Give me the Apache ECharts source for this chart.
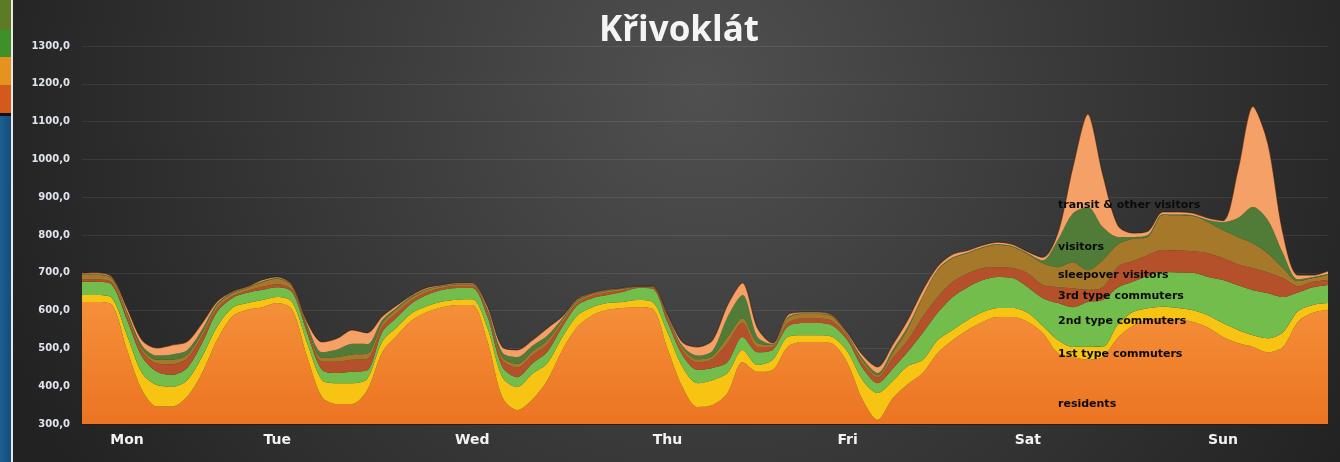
<!DOCTYPE html>
<html>
<head>
<meta charset="utf-8">
<script src="https://cdn.jsdelivr.net/npm/echarts@6/dist/echarts.min.js"></script>
<style>
html, body { margin: 0; padding: 0; }
body {
  width: 1340px; height: 462px; overflow: hidden; position: relative;
  background: radial-gradient(circle 740px at 700px 90px, #505050 0%, #222 100%);
}
#chart { position: absolute; left: 0; top: 0; width: 1340px; height: 462px; }
.strip { position: absolute; left: 0; width: 11px; z-index: 2; }
</style>
</head>
<body>
<div id="chart"></div>
<!-- piece of another window on the left edge -->
<div class="strip" style="top:0;height:30px;background:#5d7a24"></div>
<div class="strip" style="top:30px;height:27px;background:#3f8f2a"></div>
<div class="strip" style="top:57px;height:28px;background:#e5921f"></div>
<div class="strip" style="top:85px;height:28px;background:#d35a1a"></div>
<div class="strip" style="top:113px;height:3px;background:#111"></div>
<div class="strip" style="top:116px;height:346px;background:linear-gradient(90deg,#1e5f92,#164c78)"></div>
<div class="strip" style="top:0;left:11px;width:2px;height:462px;background:#e8e8e8"></div>
<script>
// axis
const dayNames = ['Mon', 'Tue', 'Wed', 'Thu', 'Fri', 'Sat', 'Sun']
const dayLabelIndex = [3, 13, 26, 39, 51, 63, 76]
const hourSteps = ['00', '02', '04', '06', '08', '10', '12', '14', '16', '18', '20', '22']
const yMin = 300
const yMax = 1300
const yStep = 100

const seriesNames = ['residents', '1st type commuters', '2nd type commuters', '3rd type commuters',
  'sleepover visitors', 'visitors', 'transit & other visitors']

// values every 2 hours, Mon 00:00 .. Sun 22:00
const residents = [
  623, 623, 615, 496, 390, 346, 346, 372, 435, 522, 584, 602,
  609, 620, 602, 477, 371, 353, 353, 390, 490, 535, 575, 596,
  609, 615, 615, 520, 371, 337, 365, 416, 496, 557, 588, 602,
  607, 609, 605, 500, 398, 345, 350, 382, 464, 438, 443, 504,
  517, 517, 512, 461, 364, 311, 368, 405, 435, 488, 522, 549,
  570, 583, 583, 570, 541, 488, 477, 470, 477, 528, 560, 575,
  580, 577, 570, 555, 530, 514, 504, 490, 504, 570, 594, 602
]
const commuters1 = [
  18, 18, 18, 39, 45, 57, 53, 44, 43, 35, 23, 18,
  19, 16, 21, 37, 45, 55, 55, 30, 28, 22, 19, 16,
  15, 14, 15, 35, 53, 61, 68, 45, 34, 30, 21, 18,
  16, 19, 18, 42, 53, 63, 66, 53, 32, 18, 26, 26,
  18, 18, 18, 30, 52, 71, 46, 48, 34, 34, 27, 26,
  26, 24, 24, 24, 18, 34, 27, 35, 27, 35, 36, 31,
  30, 30, 31, 33, 37, 35, 31, 37, 39, 28, 21, 18
]
const commuters2 = [
  35, 35, 35, 40, 43, 35, 31, 32, 36, 40, 26, 27,
  27, 26, 26, 27, 27, 27, 30, 22, 25, 26, 26, 30,
  31, 31, 30, 30, 27, 26, 27, 30, 27, 27, 24, 21,
  26, 32, 35, 28, 31, 35, 32, 29, 34, 34, 27, 27,
  32, 32, 30, 30, 32, 26, 32, 38, 72, 72, 87, 87,
  85, 82, 79, 68, 74, 98, 105, 118, 124, 98, 80, 86,
  92, 94, 99, 101, 114, 118, 119, 119, 93, 50, 47, 48
]
const commuters3 = [
  6, 6, 6, 8, 14, 22, 28, 25, 18, 8, 5, 5,
  8, 8, 6, 10, 22, 30, 32, 30, 14, 12, 8, 7,
  5, 5, 5, 8, 18, 25, 22, 20, 10, 6, 6, 6,
  5, 2, 3, 8, 12, 20, 24, 50, 38, 14, 8, 10,
  12, 12, 12, 8, 12, 15, 28, 30, 42, 42, 40, 37,
  32, 26, 27, 37, 35, 42, 50, 32, 34, 55, 55, 55,
  58, 58, 57, 63, 58, 55, 58, 55, 50, 16, 14, 13
]
const sleepover = [
  12, 12, 10, 10, 8, 10, 12, 10, 10, 10, 8, 8,
  12, 14, 8, 6, 10, 12, 14, 14, 10, 10, 8, 7,
  5, 5, 5, 6, 8, 10, 10, 10, 8, 6, 5, 5,
  4, 2, 2, 5, 8, 8, 8, 16, 12, 10, 5, 12,
  12, 12, 12, 6, 8, 6, 14, 30, 53, 71, 63, 53,
  53, 59, 55, 50, 57, 53, 69, 52, 72, 59, 59, 48,
  93, 93, 93, 82, 74, 73, 66, 50, 27, 14, 10, 13
]
const visitors = [
  2, 2, 2, 4, 8, 11, 14, 12, 8, 3, 2, 1,
  2, 2, 2, 5, 15, 20, 28, 25, 8, 4, 3, 2,
  1, 1, 1, 5, 12, 18, 15, 13, 4, 2, 1, 1,
  1, 1, 1, 3, 5, 10, 14, 53, 61, 16, 2, 3,
  2, 2, 2, 2, 5, 6, 8, 6, 2, 2, 2, 2,
  2, 2, 2, 3, 8, 72, 129, 167, 87, 20, 5, 5,
  2, 2, 2, 6, 21, 50, 96, 88, 39, 5, 3, 3
]
const transit = [
  3, 4, 3, 10, 14, 20, 25, 23, 17, 6, 2, 2,
  4, 3, 3, 8, 27, 30, 37, 30, 10, 6, 3, 3,
  2, 2, 2, 8, 15, 19, 15, 20, 6, 3, 2, 2,
  1, 0, 1, 4, 10, 23, 28, 32, 32, 24, 3, 6,
  3, 3, 2, 4, 10, 16, 14, 18, 16, 8, 8, 5,
  5, 5, 5, 4, 8, 18, 122, 246, 139, 31, 10, 10,
  6, 7, 6, 5, 4, 127, 266, 203, 53, 11, 5, 8
]

const seriesValues = [residents, commuters1, commuters2, commuters3, sleepover, visitors, transit]
const seriesColors = ['#F0802C', '#F8C414', '#72BD4C', '#B4502A', '#A5782A', '#507C38', '#F5A066']
// where the names are written inside the chart
const nameLabelX = 1058
const nameLabelY = [404, 354, 321, 296, 275, 247, 205]

const categories = []
dayNames.forEach((d) => {
  hourSteps.forEach((h) => categories.push(d + ' ' + h + ':00'))
})

const myChart = echarts.init(document.getElementById('chart'))

const seriesData = seriesValues.map((vals, k) => {
  const isTop = k === seriesValues.length - 1
  return {
    name: seriesNames[k],
    type: 'line',
    stack: 'total',
    smooth: 0.3,
    symbol: 'none',
    lineStyle: isTop ? { width: 1.2, color: 'rgba(60,30,12,0.6)' } : { width: 0 },
    areaStyle: {
      opacity: 1,
      color: k === 0
        ? new echarts.graphic.LinearGradient(0, 0, 0, 1, [
          { offset: 0, color: '#F5903A' },
          { offset: 1, color: '#EC7422' }
        ])
        : seriesColors[k]
    },
    itemStyle: { color: seriesColors[k] },
    data: vals
  }
})

const nameTexts = seriesNames.map((n, k) => ({
  type: 'text',
  x: nameLabelX,
  y: nameLabelY[k],
  z: 100,
  style: {
    text: n,
    fill: '#0a0a0a',
    font: 'bold 11px "DejaVu Sans", sans-serif',
    verticalAlign: 'middle'
  }
}))

const myOption = {
  backgroundColor: 'transparent',
  animation: false,
  grid: {
    left: 82,
    right: 12,
    top: 46,
    bottom: 38,
    outerBoundsMode: 'none'
  },
  xAxis: {
    type: 'category',
    boundaryGap: false,
    data: categories,
    axisLine: { show: true, lineStyle: { color: '#2c1c12', width: 2 } },
    axisTick: { show: false },
    axisLabel: {
      interval: 0,
      margin: 9,
      color: '#f2f2f2',
      fontSize: 14,
      fontWeight: 'bold',
      fontFamily: 'DejaVu Sans',
      formatter: (val, idx) => {
        const k = dayLabelIndex.indexOf(idx)
        return k >= 0 ? dayNames[k] : ''
      }
    },
    splitLine: { show: false }
  },
  yAxis: {
    type: 'value',
    min: yMin,
    max: yMax,
    interval: yStep,
    axisLine: { show: false },
    axisTick: { show: false },
    axisLabel: {
      margin: 12,
      color: '#dfe4ee',
      fontSize: 10,
      fontWeight: 'bold',
      fontFamily: 'DejaVu Sans',
      formatter: (v) => v.toFixed(1).replace('.', ',')
    },
    splitLine: { lineStyle: { color: 'rgba(255,255,255,0.08)', width: 1 } }
  },
  graphic: [
    {
      type: 'text',
      x: 679,
      y: 31,
      z: 100,
      style: {
        text: 'Křivoklát',
        fill: '#f4f4f4',
        font: 'bold 35px "Open Sans", sans-serif',
        align: 'center',
        verticalAlign: 'middle',
        shadowColor: 'rgba(0,0,0,0.6)',
        shadowBlur: 4,
        shadowOffsetY: 1
      }
    }
  ].concat(nameTexts),
  series: seriesData
}
myChart.setOption(myOption)
</script>
</body>
</html>
